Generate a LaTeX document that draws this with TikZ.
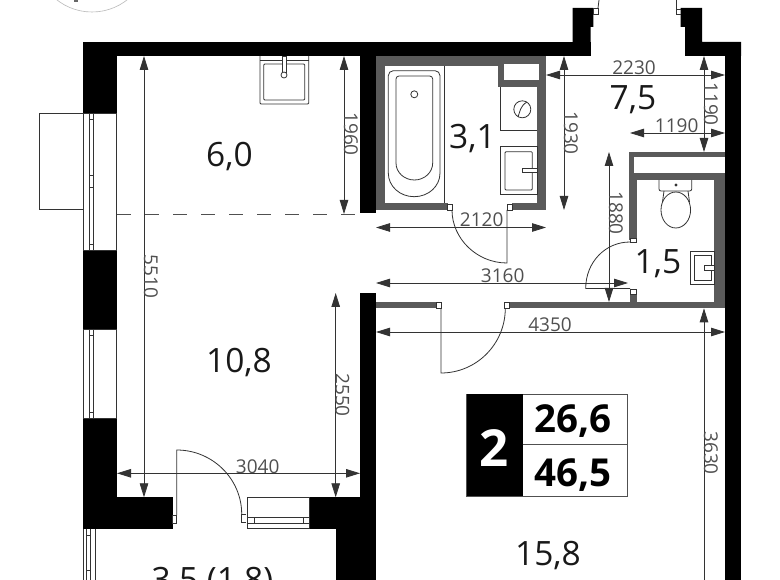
\documentclass[tikz,border=0pt]{standalone}
\usepackage{fontspec}
\setmainfont{Open Sans}
\usetikzlibrary{arrows.meta}
\definecolor{wallgray}{HTML}{5A5A5A}
\definecolor{dimgray}{HTML}{505050}
\definecolor{fixline}{HTML}{333333}
\tikzset{
  wall/.style={fill=black},
  inner wall/.style={fill=wallgray},
  fixture/.style={draw=fixline, line width=0.8pt},
  dimline/.style={draw=fixline, line width=0.8pt, {Triangle[length=14pt,width=8.5pt]}-{Triangle[length=14pt,width=8.5pt]}},
  dimlabel/.style={font=\fontsize{19}{19}\selectfont, text=dimgray, anchor=base, inner sep=0pt},
  dimlabelv/.style={dimlabel, rotate=-90},
  roomlabel/.style={font=\fontsize{33.5}{33.5}\selectfont, text=black!90, anchor=base, inner sep=0pt},
  tablelabel/.style={font=\fontsize{38.5}{38.5}\selectfont\bfseries, anchor=base, inner sep=0pt}
}
\begin{document}
\begin{tikzpicture}[x=1pt,y=-1pt]
\useasboundingbox (0,0) rectangle (780,580);
\clip (0,0) rectangle (780,580);
\fill[white] (0,0) rectangle (780,580);
% logo at the top edge
\draw[gray!55, line width=0.6pt] (92,-45) circle (57);
\fill[gray!80!black] (74,0) rectangle (78,2.5);
% black walls
\fill[wall] (83.3,42) rectangle (590.7,56);
\fill[wall] (83.3,42) rectangle (116.7,113);
\fill[wall] (83.3,250) rectangle (116.7,329);
\fill[wall] (83.3,418) rectangle (116.7,528.5);
\fill[wall] (116.7,497.3) rectangle (172.7,528.5);
\fill[wall] (360,56) rectangle (376,213);
\fill[wall] (360,293) rectangle (376,497.3);
\fill[wall] (309.3,497.3) rectangle (376,528.5);
\fill[wall] (336,497.3) rectangle (376,580);
\fill[wall] (572.7,42) -- (572.7,8) -- (593.3,8) -- (593.3,27) -- (590.7,27) -- (590.7,42) -- cycle;
\fill[wall] (685,56) -- (685,27) -- (680.7,27) -- (680.7,8) -- (702,8) -- (702,42) -- (741,42) -- (741,56) -- cycle;
\fill[wall] (725,42) rectangle (741,580);
% inner walls
\fill[inner wall] (376,56) rectangle (546,66);
\fill[inner wall] (376,56) rectangle (385.3,210);
\fill[inner wall] (376,202.7) rectangle (447.5,210);
\fill[inner wall] (512,202.7) rectangle (546,210);
\fill[inner wall] (537,56) rectangle (546,210);
\fill[inner wall] (498.3,56) rectangle (546,87);
\fill[white] (504.3,63.7) rectangle (538.7,80);
\fill[inner wall] (629.3,152) rectangle (725,157);
\fill[inner wall] (629.3,152) rectangle (634.3,240);
\fill[inner wall] (634.3,173.3) rectangle (725,180);
\fill[inner wall] (634.3,173.3) rectangle (637,238);
\fill[inner wall] (714,173.3) rectangle (725,308);
\fill[inner wall] (630,294) rectangle (637,308);
\fill[inner wall] (376,301.7) rectangle (436.7,308.3);
\fill[inner wall] (509,301.7) rectangle (725,308.3);
% windows
\foreach \ya/\yb in {113/250,329/418} {
  \draw[fixture, fill=white] (83.3,\ya) rectangle (116.7,\yb);
  \draw[fixture] (89.3,\ya) -- (89.3,\yb) (93.3,\ya) -- (93.3,\yb);
  \draw[fixture] (89.3,\ya+6) -- (93.3,\ya+6) (89.3,\yb-6) -- (93.3,\yb-6);
}
\draw[fixture] (89.3,175) -- (93.3,175) (89.3,187.3) -- (93.3,187.3);
\draw[fixture] (83.3,113) -- (39,113) -- (39,209) -- (83.3,209);
\draw[fixture] (83,528.5) -- (83,590) (95,528.5) -- (95,590) (86.7,528.5) -- (86.7,590) (90.7,528.5) -- (90.7,590);
\draw[fixture] (86.7,535) -- (90.7,535) (86.7,570) -- (90.7,570);
\draw[fixture] (247.3,497.3) rectangle (309.3,528.5);
\draw[fixture] (247.3,517.7) -- (309.3,517.7) (247.3,523.3) -- (309.3,523.3);
\draw[fixture] (254,517.7) -- (254,523.3) (303.3,517.7) -- (303.3,523.3);
% doors
\draw[fixture] (172.7,515) rectangle (176.7,523);
\draw[fixture] (176.7,515) -- (176.7,450) .. controls (212.6,450) and (241.7,479) .. (241.7,514);
\draw[fixture] (246,514) -- (241.7,514) -- (241.7,522.7) -- (246,522.7);
\draw[fixture, fill=white] (447.5,204) rectangle (452,210);
\draw[fixture, fill=white] (507,204) rectangle (512,210);
\draw[fixture] (507,210) -- (507,263) .. controls (476.6,263) and (452,238.4) .. (452,210);
\draw[fixture, fill=white] (630,238) rectangle (636,242);
\draw[fixture, fill=white] (630,289.5) rectangle (636,294);
\draw[fixture] (630,288.5) -- (585.7,288.5) .. controls (585.7,262) and (605.5,242) .. (630,242);
\draw[fixture, fill=white] (436.7,302) rectangle (441,308.3);
\draw[fixture, fill=white] (504.3,302) rectangle (509,308.3);
\draw[fixture] (441,308.3) -- (441,373) .. controls (476.5,373) and (505.3,344) .. (505.3,308.3);
\draw[fixture] (598,14) -- (598,8) -- (599,0);
\draw[fixture, fill=white] (593.3,8) rectangle (598,14);
\draw[fixture] (676.7,0) -- (676.7,14) -- (681,14) (676.7,9) -- (681,9);
% kitchen sink
\draw[fixture, rounded corners=1pt] (260,56) -- (260,104) -- (308.7,104) -- (308.7,56);
\draw[fixture] (260,60) -- (308.7,60);
\draw[fixture, rounded corners=1pt] (263.7,64) rectangle (304.7,100);
\draw[fixture, fill=white] (282,56) rectangle (286,72);
\draw[fixture, fill=white] (284,75) circle (3);
% bath
\draw[fixture] (444,66) -- (444,202.7);
\draw[fixture, rounded corners=5pt] (388.3,173) -- (388.3,70.7) -- (440,70.7) -- (440,173);
\draw[fixture] (440,173) .. controls (440,186.3) and (428.5,196.7) .. (414.2,196.7) .. controls (399.9,196.7) and (388.3,186.3) .. (388.3,173);
\draw[fixture, rounded corners=3pt] (396,163) -- (396,76) -- (432.7,76) -- (432.7,163);
\draw[fixture] (432.7,163) .. controls (432.7,172.4) and (424.5,180) .. (414.4,180) .. controls (404.2,180) and (396,172.4) .. (396,163);
\draw[fixture] (414.3,94.3) circle (3.5);
% washer and bathroom sink
\draw[fixture] (500.7,87) -- (500.7,130) -- (537,130);
\draw[fixture] (522.3,109.3) circle (8.5);
\draw[fixture] (527,102) .. controls (520,106) and (520,112) .. (518,117);
\draw[fixture] (500,146.7) rectangle (537,194.3);
\draw[fixture, rounded corners=1pt] (505,151.7) rectangle (532.3,190);
\draw[fixture, fill=white] (522.7,168.3) rectangle (537,172.7);
% toilet
\draw[fixture, rounded corners=2pt] (659,180) -- (659,191) -- (691.7,191) -- (691.7,180);
\fill[fixline] (676,185) circle (1.7);
\draw[fixture] (664,191) -- (662.5,202) (688,191) -- (689.5,202);
\draw[fixture] (675.8,210) ellipse [x radius=14.8, y radius=18];
\draw[fixture] (690,251.7) rectangle (714,284);
\draw[fixture] (694.3,255.7) rectangle (711.7,280);
\draw[fixture, fill=white] (704,265.7) rectangle (714,270);
% room border between zones
\draw[draw=dimgray, line width=0.9pt, dash pattern=on 14pt off 14pt] (117,214) -- (360,214);
% dimensions
\draw[dimline] (144,56) -- (144,497.3);
\draw[dimline] (344,56) -- (344,214);
\draw[dimline] (335.7,293) -- (335.7,497.3);
\draw[dimline] (117,473.3) -- (360,473.3);
\draw[dimline] (376,227.5) -- (546,227.5);
\draw[dimline] (376,283) -- (628,283);
\draw[dimline] (564,56) -- (564,210);
\draw[dimline] (546,75) -- (725,75);
\draw[dimline] (704,56) -- (704,152);
\draw[dimline] (630,133) -- (725,133);
\draw[dimline] (609,152) -- (609,302);
\draw[dimline] (376,332) -- (725,332);
\draw[dimline] (704,308.3) -- (704,600);
\node[dimlabelv] (d5510) at (144,276.5) {5510};
\node[dimlabelv] (d1960) at (344,134) {1960};
\node[dimlabelv] (d2550) at (335.7,395) {2550};
\node[dimlabelv] (d1930) at (564,133) {1930};
\node[dimlabelv] (d1190v) at (704,104) {1190};
\node[dimlabelv] (d1880) at (609,213) {1880};
\node[dimlabelv] (d3630) at (704,453) {3630};
\node[dimlabel] (d3040) at (257.7,473) {3040};
\node[dimlabel] (d2120) at (481.7,227) {2120};
\node[dimlabel] (d3160) at (502.7,282.7) {3160};
\node[dimlabel] (d2230) at (634,74.5) {2230};
\node[dimlabel] (d1190) at (676.7,132.7) {1190};
\node[dimlabel] (d4350) at (550,332) {4350};
% room areas
\node[roomlabel] (rKitchen) at (229.5,166.7) {6,0};
\node[roomlabel] (rLiving) at (239,373) {10,8};
\node[roomlabel] (rBalcony) at (212.5,591) {3,5 (1,8)};
\node[roomlabel] (rBath) at (472.5,148.3) {3,1};
\node[roomlabel] (rHall) at (633,110) {7,5};
\node[roomlabel] (rWc) at (658,273.3) {1,5};
\node[roomlabel] (rBed) at (548,565) {15,8};
% summary table
\draw[draw=dimgray, line width=0.8pt, fill=white] (466.7,394) rectangle (627,496);
\fill[black] (466.7,394) rectangle (522.7,496);
\draw[draw=dimgray, line width=0.8pt] (522.7,444) -- (627,444);
\node[font=\fontsize{51}{51}\selectfont\bfseries, text=white, anchor=base, inner sep=0pt] (tRooms) at (494,466.7) {2};
\node[tablelabel] (tLiving) at (573,432.7) {26,6};
\node[tablelabel] (tTotal) at (573,486) {46,5};
\end{tikzpicture}
\end{document}
